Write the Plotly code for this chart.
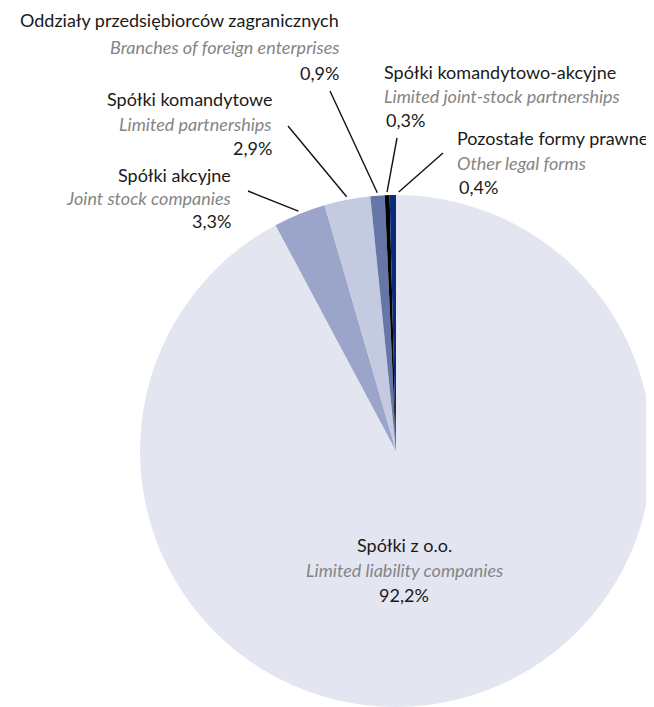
import math
import plotly.graph_objects as go

# page body has an 8px margin, so the figure is drawn 8px in from the corner
OFF = 8
W, H = 654 - OFF, 707 - OFF

# data
names_pl = ["Spółki z o.o.", "Spółki akcyjne", "Spółki komandytowe",
            "Oddziały przedsiębiorców zagranicznych",
            "Spółki komandytowo-akcyjne", "Pozostałe formy prawne"]
names_en = ["Limited liability companies", "Joint stock companies",
            "Limited partnerships", "Branches of foreign enterprises",
            "Limited joint-stock partnerships", "Other legal forms"]
shares = [92.2, 3.3, 2.9, 0.9, 0.3, 0.4]
colors = ["#e3e6f1", "#9ba5c9", "#c4cadf", "#6677a7", "#000000", "#0b2a7c"]

# label placement in page pixels: (x, y of first line, anchor)
label_pos = [(404, 545, "center"), (233, 175, "right"), (274, 99, "right"),
             (341, 20, "right"), (382, 72, "left"), (455, 138, "left")]
line_gap = [25, 23, 24.5, 26.5, 24, 24.5]
# where the leader line starts, near the text
leader_from = [None, (248, 191), (288, 126), (330, 91), (397, 138), (443, 153)]

cx, cy, R = 396, 451, 256


def fmt(v):
    return "{:.1f}%".format(v).replace(".", ",")


def px(x, y):
    return (x - OFF) / W, 1 - (y - OFF) / H


fig = go.Figure()
fig.add_trace(go.Pie(
    values=shares,
    labels=names_pl,
    sort=False,
    direction="clockwise",
    rotation=0,
    marker=dict(colors=colors, line=dict(width=0)),
    textinfo="none",
    hoverinfo="label+percent",
    showlegend=False,
    domain=dict(x=[(cx - OFF - R) / W, (cx - OFF + R) / W],
                y=[(H - (cy - OFF) - R) / H, (H - (cy - OFF) + R) / H]),
))

total = sum(shares)
cum = 0
shapes = []
annotations = []
for i, v in enumerate(shares):
    mid = (cum + v / 2) / total * 2 * math.pi
    cum += v
    if leader_from[i] is not None:
        ex = cx + (R + 3) * math.sin(mid)
        ey = cy - (R + 3) * math.cos(mid)
        if i == 5:
            ex += 6  # the reference points just right of the thin slice
        x0, y0 = px(*leader_from[i])
        x1, y1 = px(ex, ey)
        shapes.append(dict(type="line", xref="paper", yref="paper",
                           x0=x0, y0=y0, x1=x1, y1=y1,
                           line=dict(color="#111111", width=1.4)))
    lx, ly, anchor = label_pos[i]
    rows = [(names_pl[i], "#1a1a1a", False), (names_en[i], "#858585", True),
            (fmt(v), "#1a1a1a", False)]
    for k, (txt, col, it) in enumerate(rows):
        xx = lx + (2 if (k == 2 and anchor == "left") else 0)
        ax, ay = px(xx, ly + k * line_gap[i])
        annotations.append(dict(
            x=ax, y=ay, xref="paper", yref="paper", showarrow=False,
            text="<i>%s</i>" % txt if it else txt,
            xanchor=anchor, yanchor="middle",
            font=dict(size=18, color=col),
        ))

fig.update_layout(
    width=W, height=H,
    margin=dict(l=0, r=0, t=0, b=0),
    paper_bgcolor="white",
    plot_bgcolor="white",
    font=dict(family="Lato, sans-serif", size=18, color="#1a1a1a"),
    shapes=shapes,
    annotations=annotations,
)

fig.write_html("out.html")
